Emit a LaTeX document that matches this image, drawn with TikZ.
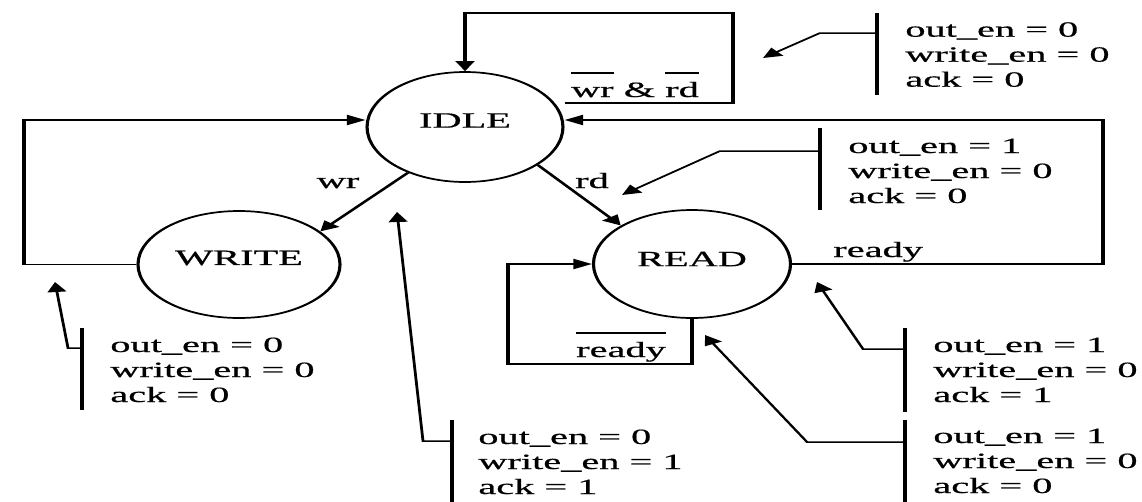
\documentclass[tikz,border=0pt]{standalone}
\usepackage{fontspec}
\setmainfont[FakeBold=0.5]{Liberation Serif}
\usetikzlibrary{arrows.meta,shapes.geometric}
\newcommand\ovl[1]{\leavevmode\setbox0\hbox{#1}\rlap{\rule[23pt]{\wd0}{1.9pt}}\box0\relax}
\newcommand\outs[3]{\begin{tabular}[t]{@{}l@{}}out\_en = #1\\write\_en = #2\\ack = #3\end{tabular}}
\tikzset{
  state/.style={draw, ellipse, line width=1.7pt, inner sep=0pt},
  conn/.style={line width=1.9pt, -{Triangle[length=10pt,width=10pt]}},
  leader/.style={line width=1.5pt, -{Triangle[length=10pt,width=10pt]}},
  bar/.style={line width=2pt},
  anno/.style={inner sep=0pt, anchor=base west},
  lbl/.style={inner sep=0pt, anchor=base},
}
\begin{document}
\begin{tikzpicture}[x=1pt, y=-1pt, font=\fontsize{21.8}{25}\selectfont]
\fill[white] (0,0) rectangle (1142,501);
\useasboundingbox (0,0) rectangle (1142,501);
\begin{scope}[transform canvas={xscale=1.85}, x=0.540541pt]
  % states
  \node[state, minimum width=105.9pt, minimum height=110pt, label={[yshift=6.5pt]center:IDLE}] (idle) at (465,127) {};
  \node[state, minimum width=109.2pt, minimum height=107pt, label={[yshift=6.5pt]center:WRITE}] (write) at (239,264.5) {};
  \node[state, minimum width=106.5pt, minimum height=108pt, label={[yshift=5pt]center:READ}] (read) at (692,264) {};

  % IDLE self loop
  \coordinate (t1) at (733,103);
  \coordinate (t2) at (733,13);
  \draw[conn] (idle.east |- t1) -- (t1) -- (t2) -| (idle.north);
  \node[lbl] (lwrrd) at (635,97) {\ovl{wr} \& \ovl{rd}};

  % WRITE -> IDLE
  \coordinate (lft) at (24,120);
  \draw[conn] (write.west) -| (lft) -- (idle.west |- lft);

  % READ -> IDLE
  \coordinate (rgt) at (1103,120);
  \draw[conn] (read.east) -| (rgt) -- (idle.east |- rgt);
  \node[lbl, anchor=base west] (lready) at (833,257) {ready};

  % IDLE -> WRITE / READ
  \draw[conn] (idle.236) -- (write.37);
  \node[lbl] (lwr) at (338,188) {wr};
  \draw[conn] (idle.-44) -- (read.135);
  \node[lbl] (lrd) at (592,188) {rd};

  % READ self loop
  \coordinate (s1) at (508,364);
  \draw[conn] (read.south) |- (s1) |- (read.west);
  \node[lbl] (lnready) at (621,357) {\ovl{ready}};

  % output annotations
  % top right (IDLE)
  \node[anno] (o1) at (905,36.7) {\outs000};
  \draw[bar] (877,13) -- (877,95);
  \coordinate (p1) at (763,58);
  \draw[leader] (877,33) -- (820,33) -- (p1);
  % middle right (READ entry)
  \node[anno] (o2) at (848,153) {\outs100};
  \draw[bar] (820,128) -- (820,210);
  \coordinate (p2) at (622,195);
  \draw[leader] (820,151) -- (720,151) -- (p2);
  % right upper (ready)
  \node[anno] (o3) at (933,352) {\outs101};
  \draw[bar] (905,328) -- (905,412);
  \coordinate (p3) at (817,282);
  \draw[leader] (905,349) -- (863,349) -- (p3);
  % right lower (not ready)
  \node[anno] (o4) at (933,443) {\outs100};
  \draw[bar] (905,420) -- (905,503);
  \coordinate (p4) at (705,335);
  \draw[leader] (905,442) -- (807,442) -- (p4);
  % left (WRITE exit)
  \node[anno] (o5) at (110,352) {\outs000};
  \draw[bar] (82,328) -- (82,410);
  \coordinate (p5) at (55,282);
  \draw[leader] (82,348) -- (68,348) -- (p5);
  % middle bottom (wr)
  \node[anno] (o6) at (478,444) {\outs011};
  \draw[bar] (452,420) -- (452,503);
  \coordinate (p6) at (397,212);
  \draw[leader] (452,441) -- (423,441) -- (p6);
\end{scope}
\end{tikzpicture}
\end{document}
